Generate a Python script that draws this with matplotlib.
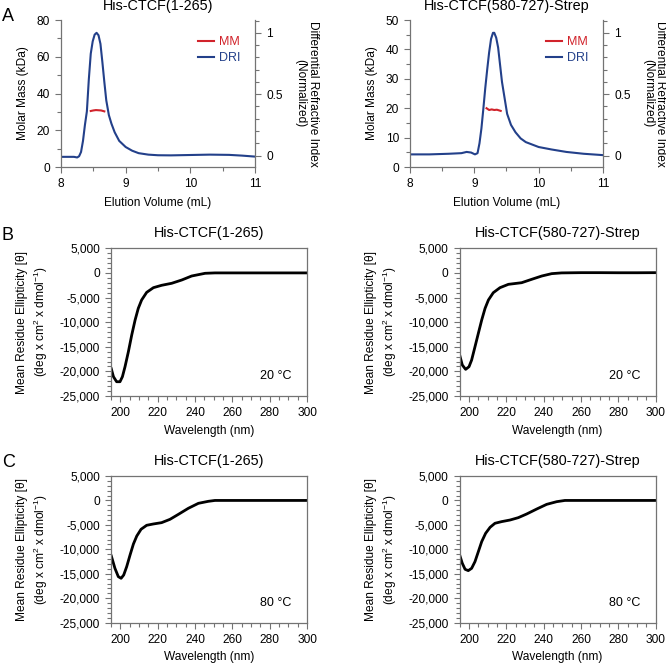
import matplotlib
matplotlib.use("Agg")
import matplotlib.pyplot as plt
from matplotlib.ticker import MultipleLocator, FuncFormatter
from matplotlib.lines import Line2D

plt.rcParams['font.family'] = ['Liberation Sans', 'DejaVu Sans']
plt.rcParams['mathtext.fontset'] = 'custom'
plt.rcParams['mathtext.rm'] = 'Liberation Sans'
plt.rcParams['mathtext.it'] = 'Liberation Sans:italic'
plt.rcParams['font.size'] = 8.6

# --- SEC-MALS data (panel A) ---
titles = ["His-CTCF(1-265)", "His-CTCF(580-727)-Strep"]

vol_1 = [8.0, 8.1, 8.2, 8.25, 8.28, 8.31, 8.34, 8.37, 8.40, 8.43, 8.46, 8.49, 8.52,
         8.55, 8.58, 8.61, 8.64, 8.67, 8.70, 8.74, 8.78, 8.83, 8.90, 9.0, 9.1, 9.2,
         9.35, 9.5, 9.7, 10.0, 10.3, 10.6, 10.8, 11.0]
dri_1 = [-0.01, -0.01, -0.01, -0.015, -0.005, 0.03, 0.12, 0.25, 0.36, 0.62, 0.83, 0.93,
         0.985, 1.0, 0.98, 0.91, 0.76, 0.60, 0.45, 0.33, 0.26, 0.19, 0.12, 0.07, 0.04,
         0.02, 0.008, 0.003, 0.002, 0.005, 0.008, 0.006, 0.0, -0.008]
mm_vol_1 = [8.46, 8.50, 8.54, 8.58, 8.62, 8.67]
mm_1 = [30.5, 30.8, 31.0, 30.9, 30.8, 30.3]

vol_2 = [8.0, 8.3, 8.6, 8.8, 8.88, 8.95, 9.01, 9.05, 9.08, 9.11, 9.14, 9.17, 9.20,
         9.23, 9.26, 9.29, 9.31, 9.34, 9.37, 9.40, 9.43, 9.47, 9.51, 9.57, 9.64, 9.72,
         9.80, 9.9, 10.0, 10.2, 10.43, 10.7, 11.0]
dri_2 = [0.01, 0.01, 0.015, 0.02, 0.03, 0.025, 0.01, 0.02, 0.1, 0.22, 0.38, 0.55, 0.70,
         0.84, 0.95, 1.0, 1.0, 0.96, 0.88, 0.74, 0.60, 0.47, 0.34, 0.25, 0.19, 0.14,
         0.11, 0.09, 0.07, 0.05, 0.03, 0.015, 0.004]
mm_vol_2 = [9.19, 9.23, 9.27, 9.31, 9.35, 9.41]
mm_2 = [20.0, 19.4, 19.6, 19.4, 19.5, 19.1]

mm_ylim = [80, 50]
mm_major = [20, 10]
mm_minor = [10, 5]

# --- CD data (panels B, C) ---
wl_b1 = [195, 196.3, 198, 199.8, 201.1, 202.5, 204.3, 206.1, 207.9, 209.6, 211.4, 214.1,
         217.7, 222.1, 227.5, 232.9, 238.2, 245.4, 250.7, 260, 270, 280, 290, 300]
cd_b1 = [-19260, -21080, -22100, -22100, -21080, -19050, -16000, -12600, -9570, -7200,
         -5500, -3950, -3000, -2520, -2110, -1440, -630, -80, 0, 0, 0, 0, 0, 0]

wl_b2 = [195, 196.4, 198.2, 200, 201.4, 203.2, 205, 206.8, 208.6, 210.4, 213.0, 216.6,
         221.1, 228.2, 233.6, 239, 244.3, 249.6, 260, 270, 280, 290, 300]
cd_b2 = [-16680, -18700, -19590, -19050, -17700, -15000, -12270, -9570, -7200, -5500,
         -4020, -3000, -2320, -1990, -1300, -630, -150, 0, 50, 50, 30, 30, 50]

wl_c1 = [195, 197.1, 198.9, 200.4, 201.8, 203.4, 205.2, 207, 208.8, 211.1, 214.1, 217.7,
         222.1, 226.6, 231.1, 236.4, 241.8, 247.1, 250.7, 260, 270, 280, 290, 300]
cd_c1 = [-11150, -13880, -15580, -15920, -15240, -13530, -11150, -8900, -7270, -5890,
         -5080, -4810, -4540, -3860, -2840, -1610, -590, -180, 0, 0, 0, 0, 0, 0]

wl_c2 = [195, 196.4, 197.9, 199.6, 201.4, 203.2, 205, 206.8, 208.9, 211.3, 213.9, 217.5,
         222, 226.4, 230.9, 236.3, 241.6, 247, 251.4, 260, 270, 280, 290, 300]
cd_c2 = [-11150, -12850, -14080, -14350, -13880, -12510, -10470, -8420, -6720, -5490,
         -4670, -4330, -4000, -3520, -2770, -1750, -800, -250, 0, 0, 0, 0, 0, 0]

temps = ["20 °C", "20 °C", "80 °C", "80 °C"]

RED = "#d1232b"
BLUE = "#23408a"
GRAY = "0.45"

fig = plt.figure(figsize=(6.66, 6.66), dpi=100)


def style_ticks(ax):
    ax.tick_params(which="both", direction="out", color=GRAY, width=0.8, labelcolor="black")
    ax.tick_params(which="major", length=4.5)
    ax.tick_params(which="minor", length=2.8)
    for sp in ax.spines.values():
        sp.set_color(GRAY)
        sp.set_linewidth(0.9)


# ---------------- Panel A ----------------
a_pos = [[0.0916, 0.7492, 0.2913, 0.2207], [0.6156, 0.7492, 0.2898, 0.2207]]
sec = [(vol_1, dri_1, mm_vol_1, mm_1), (vol_2, dri_2, mm_vol_2, mm_2)]
for i in range(2):
    vol, dri, mvol, mm = sec[i]
    ax = fig.add_axes(a_pos[i])
    ax2 = ax.twinx()
    ax2.plot(vol, dri, color=BLUE, lw=1.5)
    ax.plot(mvol, mm, color=RED, lw=1.5)
    ax.set_zorder(ax2.get_zorder() + 1)
    ax.patch.set_visible(False)

    ax.set_xlim(8, 11)
    ax.set_ylim(0, mm_ylim[i])
    ax2.set_ylim(-0.093, 1.104)
    ax.xaxis.set_major_locator(MultipleLocator(1))
    ax.xaxis.set_minor_locator(MultipleLocator(0.5))
    ax.yaxis.set_major_locator(MultipleLocator(mm_major[i]))
    ax.yaxis.set_minor_locator(MultipleLocator(mm_minor[i]))
    ax2.yaxis.set_major_locator(MultipleLocator(0.5))
    ax2.yaxis.set_minor_locator(MultipleLocator(0.1))
    ax2.yaxis.set_major_formatter(FuncFormatter(lambda v, p: "%g" % round(v, 2)))
    for a in (ax, ax2):
        style_ticks(a)
        a.spines["top"].set_visible(False)
    ax2.spines["left"].set_visible(False)
    ax2.spines["bottom"].set_visible(False)
    ax.spines["right"].set_visible(False)

    ax.set_title(titles[i], pad=7)
    ax.set_xlabel("Elution Volume (mL)", labelpad=5)
    ax.set_ylabel("Molar Mass (kDa)", va="center")
    ax.yaxis.set_label_coords(-0.198, 0.5)
    ax2.set_ylabel("Differential Refractive Index\n(Normalized)", rotation=270,
                   va="center", linespacing=1.05)
    ax2.yaxis.set_label_coords(1.265, 0.5)

    handles = [Line2D([], [], color=RED, lw=1.5), Line2D([], [], color=BLUE, lw=1.5)]
    ax.legend(handles, ["MM", "DRI"], loc="upper left", bbox_to_anchor=(0.705, 0.89),
              frameon=False, borderpad=0, borderaxespad=0, handlelength=1.3,
              handletextpad=0.4, labelspacing=0.3, labelcolor=[RED, BLUE],
              fontsize=9)

# ---------------- Panels B, C ----------------
cd_pos = [[0.1667, 0.4054, 0.2943, 0.2218], [0.6902, 0.4054, 0.2943, 0.2218],
          [0.1667, 0.0650, 0.2943, 0.2203], [0.6902, 0.0650, 0.2943, 0.2203]]
cd_data = [(wl_b1, cd_b1), (wl_b2, cd_b2), (wl_c1, cd_c1), (wl_c2, cd_c2)]
for k in range(4):
    wl, cd = cd_data[k]
    ax = fig.add_axes(cd_pos[k])
    ax.plot(wl, cd, color="black", lw=2.0, solid_capstyle="round")
    ax.set_xlim(195, 300)
    ax.set_ylim(-25000, 5000)
    ax.xaxis.set_major_locator(MultipleLocator(20))
    ax.xaxis.set_minor_locator(MultipleLocator(5))
    ax.yaxis.set_major_locator(MultipleLocator(5000))
    ax.yaxis.set_minor_locator(MultipleLocator(1000))
    ax.yaxis.set_major_formatter(FuncFormatter(lambda v, p: f"{int(round(v)):,}"))
    style_ticks(ax)
    ax.set_title(titles[k % 2], pad=8)
    ax.set_xlabel("Wavelength (nm)", labelpad=4)
    ax.set_ylabel("Mean Residue Ellipticity [θ]\n(deg x cm$^2$ x dmol$^{-1}$)",
                  linespacing=1.3, va="center")
    ax.yaxis.set_label_coords(-0.397, 0.5)
    ax.text(0.84, 0.135, temps[k], transform=ax.transAxes, ha="center", va="center",
            fontsize=9)

# panel letters
fig.text(0.003, 0.975, "A", fontsize=13, va="center", ha="left")
fig.text(0.003, 0.647, "B", fontsize=13, va="center", ha="left")
fig.text(0.003, 0.306, "C", fontsize=13, va="center", ha="left")

fig.savefig("out.png", dpi=100, facecolor="white")
